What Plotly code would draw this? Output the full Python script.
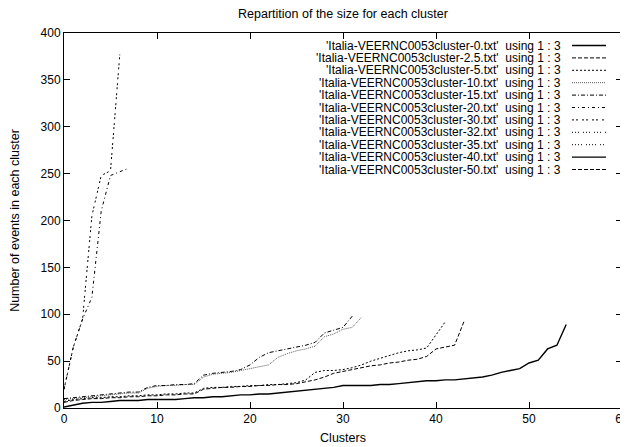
import plotly.graph_objects as go

# ---- data (x = cluster index, y = events) ----
names = ["0", "2.5", "5", "10", "15", "20", "30", "32", "35", "40", "50"]

cluster_0 = [1, 3, 5, 6, 6, 7, 8, 8, 8, 9,
             9, 9, 9, 10, 11, 11, 12, 12, 13, 14,
             14, 15, 15, 16, 17, 18, 19, 20, 21, 22,
             24, 24, 24, 24, 25, 25, 26, 27, 28, 29,
             29, 30, 30, 31, 32, 33, 35, 38, 40, 42,
             48, 51, 63, 67, 89]
cluster_2_5 = [6, 8, 9, 10, 10, 11, 11, 12, 12, 13,
               13, 14, 14, 15, 15, 20, 21, 22, 22, 23,
               23, 24, 24, 25, 25, 26, 28, 30, 33, 37,
               39, 41, 43, 45, 46, 48, 49, 51, 52, 55,
               63, 65, 67, 92]
cluster_5 = [7, 9, 10, 11, 11, 12, 12, 13, 13, 14,
             14, 15, 15, 16, 16, 21, 22, 22, 23, 23,
             24, 24, 25, 25, 26, 27, 30, 38, 40, 40,
             41, 43, 46, 50, 53, 56, 59, 61, 62, 64,
             78, 92]
cluster_10 = [9, 10, 11, 12, 13, 14, 15, 16, 16, 21,
              23, 24, 24, 25, 25, 33, 36, 37, 38, 40,
              42, 44, 46, 54, 58, 61, 63, 66, 76, 79,
              84, 86, 97]
cluster_15 = [10, 11, 12, 13, 14, 15, 16, 17, 17, 22,
              24, 24, 25, 25, 26, 35, 37, 38, 39, 41,
              46, 54, 59, 61, 63, 65, 67, 70, 80, 83,
              86, 98]
cluster_20 = [20, 65, 95, 118, 210, 248, 252, 256]
cluster_30 = [20, 65, 95, 205, 248, 253, 377]
cluster_32 = []
cluster_35 = []
cluster_40 = []
cluster_50 = []

series = [cluster_0, cluster_2_5, cluster_5, cluster_10, cluster_15, cluster_20,
          cluster_30, cluster_32, cluster_35, cluster_40, cluster_50]

x_ticks = [0, 10, 20, 30, 40, 50, 60]
y_ticks = [0, 50, 100, 150, 200, 250, 300, 350, 400]

# ---- styles (gnuplot-like line types) ----
dashes = ["solid", "4px,2px", "2px,2px", "1px,1px", "4px,2px,1px,2px",
          "3px,3px,1px,3px", "2px,2px,2px,4px", "1px,2px,1px,2px,1px,4px",
          "1px,2px,1px,2px,1px,2px,1px,4px", "solid", "4px,2px"]
colors = ["black", "black", "black", "#555555", "black", "black", "black",
          "black", "black", "black", "black"]
widths = [1.4, 1, 1, 1, 1, 1, 1, 1, 1, 1.4, 1]

FONT = "Liberation Sans, Arial, Helvetica, sans-serif"

# The page body has an 8px default margin, so the figure is sized to fit.
OFF = 8
FIG_W, FIG_H = 628 - OFF, 447 - OFF
# plot-area edges in window pixels
L, R, T, B = 64, 622, 33, 408
W, H = R - L, B - T

fig = go.Figure()
for name, vals, d, c, w in zip(names, series, dashes, colors, widths):
    fig.add_trace(go.Scatter(
        x=list(range(len(vals))), y=vals, mode="lines",
        name=f"'Italia-VEERNC0053cluster-{name}.txt'  using 1 : 3",
        line=dict(color=c, width=w, dash=d), showlegend=False))

# ---- gnuplot style key: right-aligned text, sample on the right ----
def px(xp):
    return (xp - L) / W
def py(yp):
    return (B - yp) / H

annotations = []
shapes = []
for i, (name, d, c, w) in enumerate(zip(names, dashes, colors, widths)):
    yc = 45.5 + 12.4 * i
    annotations.append(dict(
        xref="paper", yref="paper", x=px(563), y=py(yc),
        xanchor="right", yanchor="middle", showarrow=False,
        text=f"'Italia-VEERNC0053cluster-{name}.txt'\u00a0\u00a0using 1 : 3",
        font=dict(family=FONT, size=12, color="black")))
    shapes.append(dict(
        type="line", xref="paper", yref="paper",
        x0=px(572), x1=px(606), y0=py(yc), y1=py(yc),
        line=dict(color=c, width=w, dash=d)))

fig.update_layout(
    width=FIG_W, height=FIG_H,
    margin=dict(l=L - OFF, r=FIG_W - (R - OFF), t=T - OFF, b=FIG_H - (B - OFF),
                autoexpand=False),
    paper_bgcolor="white", plot_bgcolor="white",
    font=dict(family=FONT, size=12, color="black"),
    title=dict(text="Repartition of the size for each cluster",
               x=0.5, xref="paper", xanchor="center",
               y=1 - 6 / FIG_H, yref="container", yanchor="middle",
               font=dict(family=FONT, size=12.5, color="black")),
    annotations=annotations, shapes=shapes, showlegend=False,
)
fig.update_xaxes(range=[0, 60], tickvals=x_ticks, ticktext=[str(t) for t in x_ticks],
                 ticks="inside", ticklen=6, tickcolor="black", mirror="ticks",
                 showline=True, linecolor="black", linewidth=1, showgrid=False,
                 zeroline=False, automargin=False, ticklabeloverflow="allow",
                 title=dict(text="Clusters", standoff=7,
                            font=dict(family=FONT, size=12.5)))
fig.update_yaxes(range=[0, 400], tickvals=y_ticks, ticktext=[str(t) for t in y_ticks],
                 ticks="inside", ticklen=6, tickcolor="black", mirror="ticks",
                 showline=True, linecolor="black", linewidth=1, showgrid=False,
                 zeroline=False, automargin=False,
                 title=dict(text="Number of events in each cluster", standoff=27,
                            font=dict(family=FONT, size=12.5)))

fig.write_html("out.html")
